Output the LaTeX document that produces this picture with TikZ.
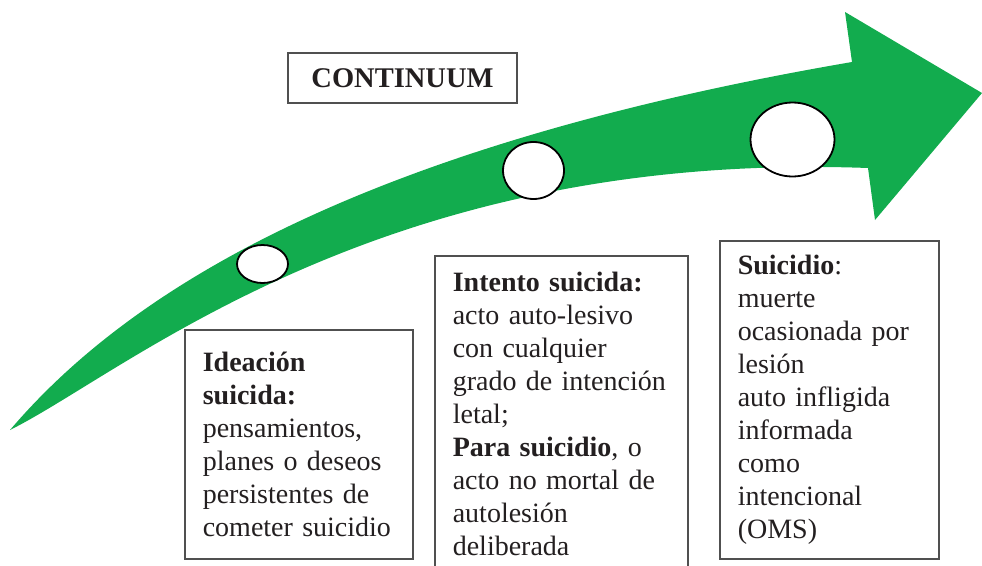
\documentclass[tikz,border=0pt]{standalone}
\usepackage{fontspec}
\setmainfont{Liberation Serif}
\usetikzlibrary{shapes.geometric}
\definecolor{arrowgreen}{RGB}{18,172,78}
\definecolor{boxgray}{RGB}{80,80,80}
\definecolor{inkgray}{RGB}{35,31,32}
\tikzset{
  infobox/.style={draw=boxgray, line width=1.6pt, anchor=north west, align=left,
    inner xsep=18pt, text=inkgray, font=\fontsize{28}{33}\selectfont},
  dot/.style={draw=black, fill=white, ellipse, line width=1.8pt, inner sep=0pt},
}

\begin{document}
\begin{tikzpicture}[x=1pt, y=-1pt]
  \useasboundingbox (0,0) rectangle (982,565);
  % curved arrow
  \fill[arrowgreen] (10,430) .. controls (125,295) and (350,148) .. (852,62)
      -- (845,12) -- (982,93) -- (875,220) -- (868,168)
      .. controls (380,150) and (130,370) .. (10,430) -- cycle;

  % stages on the arrow
  \node[dot, minimum width=51pt, minimum height=38pt] (d1) at (262.5,264) {};
  \node[dot, minimum width=61pt, minimum height=57pt] (d2) at (533.5,170.5) {};
  \node[dot, minimum width=84pt, minimum height=74pt] (d3) at (792.5,139.5) {};

  \node[draw=boxgray, line width=1.6pt, minimum width=229pt, minimum height=50pt,
    text=inkgray, font=\bfseries\fontsize{28.5}{32}\selectfont] (title) at (402.5,78) {CONTINUUM};

  % descriptions
  \node[infobox, text width=192pt, minimum height=229pt] (ideacion) at (184,329)
    {\textbf{Ideación}\\ \textbf{suicida:}\\ pensamientos,\\ planes o deseos\\ persistentes de\\ cometer suicidio};
  \node[infobox, text width=217pt, inner ysep=16pt] (intento) at (434,255)
    {\textbf{Intento suicida:}\\ acto auto-lesivo\\ con cualquier\\ grado de intención\\ letal;\\
     \textbf{Para suicidio}, o\\ acto no mortal de\\ autolesión\\ deliberada};
  \node[infobox, text width=183pt, minimum height=318pt] (suicidio) at (719,240)
    {\textbf{Suicidio}:\\ muerte\\ ocasionada por\\ lesión\\ auto infligida\\ informada\\ como\\ intencional\\ (OMS)};
\end{tikzpicture}
\end{document}
